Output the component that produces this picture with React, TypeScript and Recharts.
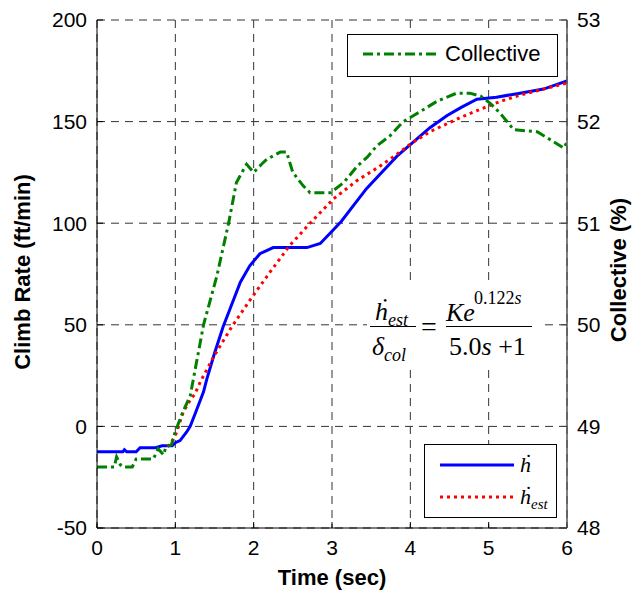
import React from 'react';
import { LineChart, Line, XAxis, YAxis, CartesianGrid } from 'recharts';

const timeTicks = [0, 1, 2, 3, 4, 5, 6];
const climbTicks = [-50, 0, 50, 100, 150, 200];
const collectiveTicks = [48, 49, 50, 51, 52, 53];

const hTime = [0, 0.33, 0.35, 0.38, 0.5, 0.55, 0.75, 0.83, 0.96, 1.0, 1.06, 1.14, 1.19, 1.26, 1.36, 1.4, 1.5, 1.61, 1.7, 1.83, 1.95, 2.08, 2.25, 2.68, 2.85, 3.0, 3.12, 3.3, 3.44, 3.61, 3.83, 4.04, 4.25, 4.47, 4.65, 4.85, 5.1, 5.4, 5.7, 6.0];
const hValue = [-12.5, -12.5, -11.5, -12.5, -12.5, -10.5, -10.5, -9.5, -9.5, -8, -7, -3, 0, 7, 17, 23, 36, 49, 58, 71, 79, 85, 88, 88, 90, 96, 101, 110, 117, 124, 133, 140, 147, 153, 157, 161, 162, 164, 166, 170];

const estTime = [0.9, 0.93, 1.0, 1.04, 1.1, 1.19, 1.25, 1.32, 1.5, 1.72, 1.95, 2.21, 2.46, 2.72, 3.02, 3.32, 3.61, 3.83, 4.04, 4.25, 4.47, 4.7, 4.89, 5.15, 5.4, 5.7, 6.0];
const estValue = [-10, -9, -4.5, 0, 7, 13, 16, 22, 35, 49, 62, 76, 89, 100, 112, 121, 128, 134, 140, 145, 149, 153, 156, 160, 163, 166, 169];

const colTime = [0, 0.22, 0.25, 0.3, 0.33, 0.45, 0.5, 0.72, 0.78, 0.85, 0.88, 0.95, 1.0, 1.1, 1.19, 1.36, 1.53, 1.68, 1.78, 1.85, 1.91, 2.0, 2.1, 2.17, 2.34, 2.42, 2.5, 2.63, 2.72, 2.98, 3.15, 3.32, 3.45, 3.57, 3.74, 3.91, 4.13, 4.34, 4.59, 4.76, 4.9, 5.02, 5.15, 5.32, 5.62, 5.79, 5.96, 6.0];
const colValue = [48.6, 48.6, 48.7, 48.62, 48.6, 48.6, 48.68, 48.68, 48.78, 48.72, 48.8, 48.82, 48.95, 49.15, 49.3, 50.0, 50.48, 51.0, 51.4, 51.5, 51.58, 51.5, 51.58, 51.63, 51.7, 51.7, 51.5, 51.37, 51.3, 51.3, 51.4, 51.56, 51.65, 51.76, 51.86, 52.0, 52.1, 52.2, 52.28, 52.28, 52.25, 52.18, 52.08, 51.92, 51.9, 51.82, 51.74, 51.8];

const zip = (ts: number[], vs: number[]) => ts.map((t, i) => ({ t, v: vs[i] }));
const hData = zip(hTime, hValue);
const estData = zip(estTime, estValue);
const colData = zip(colTime, colValue);

const SANS = '"Liberation Sans", Arial, sans-serif';
const SERIF = '"Liberation Serif", "DejaVu Serif", "Times New Roman", serif';
const tickStyle = { fontFamily: SANS, fontSize: 21, fill: '#000' };

const abs = (left: number, top: number, extra: React.CSSProperties = {}): React.CSSProperties => ({
  position: 'absolute',
  left,
  top,
  ...extra,
});

const centered = (cx: number, cy: number, extra: React.CSSProperties = {}): React.CSSProperties => ({
  position: 'absolute',
  left: cx,
  top: cy,
  transform: 'translate(-50%, -50%)',
  whiteSpace: 'nowrap',
  lineHeight: 1,
  ...extra,
});

const leftMid = (x: number, cy: number, extra: React.CSSProperties = {}): React.CSSProperties => ({
  position: 'absolute',
  left: x,
  top: cy,
  transform: 'translateY(-50%)',
  whiteSpace: 'nowrap',
  lineHeight: 1,
  ...extra,
});

export default function App() {
  return (
    <div style={{ position: 'absolute', left: 0, top: 0, width: 641, height: 590, background: '#fff' }}>
      <LineChart
        width={641}
        height={590}
        margin={{ top: 20, right: 24, bottom: 32, left: 37 }}
      >
        <CartesianGrid
          yAxisId="left"
          stroke="#333"
          strokeDasharray="8 6"
        />
        <XAxis
          dataKey="t"
          type="number"
          domain={[0, 6]}
          ticks={timeTicks}
          allowDataOverflow
          height={30}
          tick={tickStyle}
          tickSize={-6}
          tickMargin={18}
          tickLine={{ stroke: '#000' }}
          axisLine={{ stroke: '#000', strokeWidth: 1 }}
        />
        <YAxis
          yAxisId="left"
          domain={[-50, 200]}
          ticks={climbTicks}
          allowDataOverflow
          width={60}
          tick={tickStyle}
          tickSize={-6}
          tickMargin={16}
          tickLine={{ stroke: '#000' }}
          axisLine={{ stroke: '#000', strokeWidth: 1 }}
        />
        <YAxis
          yAxisId="right"
          orientation="right"
          domain={[48, 53]}
          ticks={collectiveTicks}
          allowDataOverflow
          width={50}
          tick={{ ...tickStyle, textAnchor: 'start' }}
          tickSize={-6}
          tickMargin={16}
          tickLine={{ stroke: '#444' }}
          axisLine={{ stroke: '#555', strokeWidth: 1.5 }}
        />
        <Line
          yAxisId="left"
          data={hData}
          dataKey="v"
          type="linear"
          stroke="#0000ff"
          strokeWidth={3}
          dot={false}
          activeDot={false}
          isAnimationActive={false}
        />
        <Line
          yAxisId="left"
          data={estData}
          dataKey="v"
          type="linear"
          stroke="#ff0000"
          strokeWidth={3}
          strokeDasharray="3 4"
          dot={false}
          activeDot={false}
          isAnimationActive={false}
        />
        <Line
          yAxisId="right"
          data={colData}
          dataKey="v"
          type="linear"
          stroke="#008000"
          strokeWidth={3}
          strokeDasharray="10 4 3 4"
          dot={false}
          activeDot={false}
          isAnimationActive={false}
        />
      </LineChart>

      {/* Axis titles */}
      <div style={centered(23, 272, { transform: 'translate(-50%, -50%) rotate(-90deg)', fontFamily: SANS, fontWeight: 'bold', fontSize: 22 })}>
        Climb Rate (ft/min)
      </div>
      <div style={centered(619, 270, { transform: 'translate(-50%, -50%) rotate(-90deg)', fontFamily: SANS, fontWeight: 'bold', fontSize: 22 })}>
        Collective (%)
      </div>
      <div style={centered(332, 578, { fontFamily: SANS, fontWeight: 'bold', fontSize: 22 })}>
        Time (sec)
      </div>

      {/* Collective legend */}
      <div style={abs(347, 34, { width: 209, height: 41, border: '1px solid #000', background: '#fff' })}>
        <svg width={209} height={41} style={{ position: 'absolute', left: 0, top: 0 }}>
          <line x1={15} y1={19} x2={90} y2={19} stroke="#008000" strokeWidth={3} strokeDasharray="10 4 3 4" />
        </svg>
        <div style={leftMid(97, 19, { fontFamily: SANS, fontSize: 22 })}>
          Collective
        </div>
      </div>

      {/* h legend */}
      <div style={abs(424, 444, { width: 131, height: 72, border: '1px solid #000', background: '#fff' })}>
        <svg width={131} height={72} style={{ position: 'absolute', left: 0, top: 0 }}>
          <line x1={15} y1={20} x2={89} y2={20} stroke="#0000ff" strokeWidth={3} />
          <line x1={15} y1={52} x2={89} y2={52} stroke="#ff0000" strokeWidth={3} strokeDasharray="3 4" />
        </svg>
        <div style={leftMid(95, 20, { fontFamily: SERIF, fontStyle: 'italic', fontSize: 22 })}>
          ḣ
        </div>
        <div style={leftMid(95, 52, { fontFamily: SERIF, fontStyle: 'italic', fontSize: 22 })}>
          ḣ<span style={{ fontSize: 15, position: 'relative', top: 5 }}>est</span>
        </div>
      </div>

      {/* Transfer function annotation */}
      <div style={abs(367, 286, { width: 172, height: 78, background: '#fff' })} />
      <div style={leftMid(375, 312, { fontFamily: SERIF, fontStyle: 'italic', fontSize: 26 })}>
        ḣ<span style={{ fontSize: 18, position: 'relative', top: 6 }}>est</span>
      </div>
      <div style={abs(370, 326, { width: 46, height: 0, borderTop: '1.5px solid #000' })} />
      <div style={leftMid(372, 347, { fontFamily: SERIF, fontStyle: 'italic', fontSize: 26 })}>
        δ<span style={{ fontSize: 18, position: 'relative', top: 6 }}>col</span>
      </div>
      <div style={centered(429, 327, { fontFamily: SERIF, fontSize: 28 })}>=</div>
      <div style={leftMid(446, 313, { fontFamily: SERIF, fontStyle: 'italic', fontSize: 26 })}>
        Ke
      </div>
      <div style={leftMid(474, 298, { fontFamily: SERIF, fontSize: 18 })}>
        0.122<i>s</i>
      </div>
      <div style={abs(446, 326, { width: 86, height: 0, borderTop: '1.5px solid #000' })} />
      <div style={leftMid(449, 347, { fontFamily: SERIF, fontSize: 26 })}>
        5.0<i>s</i> +1
      </div>
    </div>
  );
}
